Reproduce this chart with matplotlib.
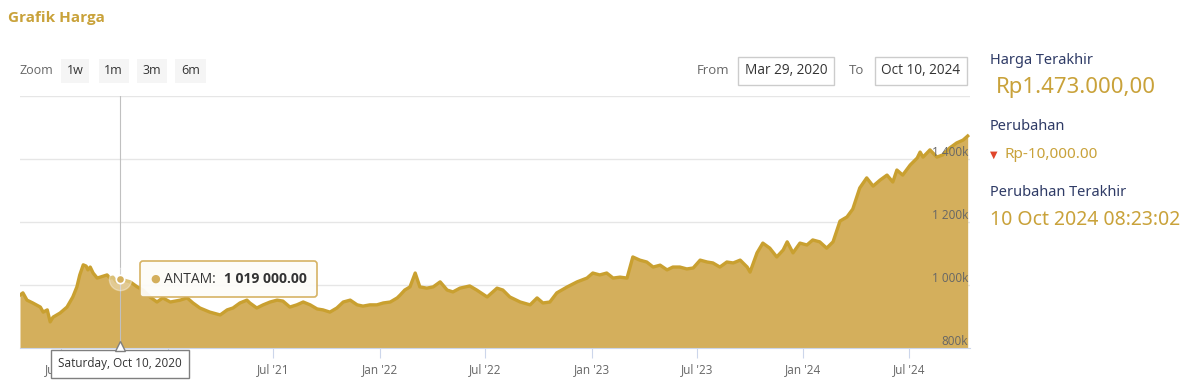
import numpy as np
import pandas as pd
import matplotlib
matplotlib.use("Agg")
import matplotlib.pyplot as plt
import matplotlib.dates as mdates
import matplotlib.transforms as mtransforms
from matplotlib.offsetbox import TextArea, HPacker, AnnotationBbox

plt.rcParams['font.family'] = ['Open Sans', 'DejaVu Sans']

# ANTAM gold price (thousand Rp)
dates = [
    "2020-04-21", "2020-04-26", "2020-05-03", "2020-05-13", "2020-05-26", "2020-05-31",
    "2020-06-07", "2020-06-12", "2020-06-17", "2020-06-29", "2020-07-11", "2020-07-21",
    "2020-07-28", "2020-08-02", "2020-08-08", "2020-08-13", "2020-08-16", "2020-08-20",
    "2020-08-25", "2020-09-01", "2020-09-06", "2020-09-18", "2020-09-23", "2020-09-28",
    "2020-10-04", "2020-10-10", "2020-10-28", "2020-11-09", "2020-11-19", "2020-12-01",
    "2020-12-13", "2020-12-23", "2021-01-05", "2021-01-22", "2021-02-03", "2021-02-13",
    "2021-02-25", "2021-03-14", "2021-04-01", "2021-04-13", "2021-04-23", "2021-05-05",
    "2021-05-17", "2021-05-22", "2021-06-03", "2021-06-14", "2021-06-26", "2021-07-08",
    "2021-07-18", "2021-07-30", "2021-08-11", "2021-08-22", "2021-09-03", "2021-09-15",
    "2021-09-25", "2021-10-07", "2021-10-19", "2021-10-30", "2021-11-11", "2021-11-23",
    "2021-12-03", "2021-12-15", "2021-12-27", "2022-01-07", "2022-01-19", "2022-01-31",
    "2022-02-05", "2022-02-13", "2022-02-22", "2022-03-03", "2022-03-11", "2022-03-23",
    "2022-04-03", "2022-04-15", "2022-04-27", "2022-05-07", "2022-05-19", "2022-06-05",
    "2022-06-17", "2022-07-05", "2022-07-22", "2022-08-01", "2022-08-13", "2022-08-31",
    "2022-09-17", "2022-09-29", "2022-10-09", "2022-10-21", "2022-11-02", "2022-11-20",
    "2022-12-07", "2022-12-24", "2023-01-03", "2023-01-15", "2023-01-27", "2023-02-07",
    "2023-02-19", "2023-03-03", "2023-03-13", "2023-03-25", "2023-04-06", "2023-04-17",
    "2023-04-29", "2023-05-11", "2023-05-21", "2023-06-02", "2023-06-14", "2023-06-25",
    "2023-07-07", "2023-07-19", "2023-07-29", "2023-08-10", "2023-08-22", "2023-09-02",
    "2023-09-14", "2023-09-26", "2023-10-01", "2023-10-13", "2023-10-23", "2023-11-04",
    "2023-11-16", "2023-11-27", "2023-12-04", "2023-12-14", "2023-12-26", "2024-01-07",
    "2024-01-17", "2024-01-29", "2024-02-10", "2024-02-21", "2024-03-04", "2024-03-16",
    "2024-03-26", "2024-04-07", "2024-04-19", "2024-04-30", "2024-05-12", "2024-05-24",
    "2024-06-03", "2024-06-10", "2024-06-20", "2024-07-03", "2024-07-15", "2024-07-20",
    "2024-07-25", "2024-08-06", "2024-08-18", "2024-08-28", "2024-09-09", "2024-09-21",
    "2024-10-02", "2024-10-10",
]
prices = [
    968, 975, 952, 943, 930, 914,
    921, 883, 898, 911, 930, 962,
    994, 1032, 1064, 1060, 1048, 1057,
    1038, 1022, 1025, 1032, 1022, 1025,
    1010, 1019, 1010, 994, 984, 962,
    946, 959, 946, 952, 959, 943,
    927, 914, 905, 921, 927, 943,
    952, 943, 927, 937, 946, 952,
    949, 930, 937, 946, 937, 924,
    921, 914, 927, 946, 952, 937,
    933, 937, 937, 943, 946, 959,
    968, 984, 994, 1038, 994, 990,
    994, 1010, 984, 978, 990, 997,
    984, 962, 990, 984, 962, 946,
    937, 959, 943, 946, 975, 994,
    1010, 1022, 1038, 1032, 1038, 1022,
    1025, 1022, 1089, 1079, 1073, 1057,
    1063, 1048, 1057, 1057, 1051, 1054,
    1079, 1073, 1070, 1057, 1073, 1070,
    1079, 1057, 1041, 1102, 1133, 1117,
    1089, 1111, 1137, 1102, 1133, 1127,
    1143, 1137, 1117, 1137, 1203, 1216,
    1241, 1308, 1340, 1314, 1333, 1349,
    1327, 1365, 1349, 1381, 1403, 1422,
    1406, 1429, 1406, 1413, 1435, 1451,
    1460, 1473,
]
y_ticks = [800, 1000, 1200, 1400]
y_labels = ["800k", "1 000k", "1 200k", "1 400k"]
zoom_buttons = ["1w", "1m", "3m", "6m"]
tip_date = "2020-10-10"
tip_value = 1019

gold_fill = "#d4af5c"
gold_line = "#c9a030"
gold_text = "#c9a23a"
navy = "#2f3b66"

x = pd.to_datetime(dates)
y = np.array(prices)

fig = plt.figure(figsize=(12, 3.86), dpi=100)
ax = fig.add_axes([20 / 1200, 38 / 386, 950 / 1200, 252 / 386])

ax.fill_between(x, 800, y, color=gold_fill, lw=0, zorder=2)
ax.plot(x, y, color=gold_line, lw=2.4, zorder=3)

ax.set_xlim(pd.Timestamp("2020-04-21"), pd.Timestamp("2024-10-14"))
ax.set_ylim(800, 1600)
ax.set_yticks([1000, 1200, 1400, 1600])
ax.yaxis.grid(True, color="#e6e6e6", lw=1)
ax.set_yticklabels([])
ax.tick_params(axis="y", length=0)
for s in ["top", "left", "right"]:
    ax.spines[s].set_visible(False)
ax.spines["bottom"].set_color("#ccd6eb")
ax.set_axisbelow(True)

ax.xaxis.set_major_locator(mdates.MonthLocator(bymonth=[1, 7]))
ax.xaxis.set_major_formatter(mdates.DateFormatter("%b '%y"))
ax.tick_params(axis="x", length=7, color="#ccd6eb", labelsize=8.5,
               labelcolor="#666666", pad=4)

for v, lab in zip(y_ticks, y_labels):
    ax.text(0.998, v, lab, transform=ax.get_yaxis_transform(), ha="right",
            va="bottom", fontsize=8.5, color="#666666", zorder=5)

# crosshair + tooltip
td = pd.Timestamp(tip_date)
ax.axvline(td, color="#c0c0c0", lw=0.8, zorder=4)
ax.plot(td, tip_value, "o", ms=16, color="white", alpha=0.35, zorder=5)
ax.plot(td, tip_value, "o", ms=6, color=gold_fill, mec="white", mew=1.2, zorder=6)

tip = HPacker(children=[
    TextArea("●", textprops=dict(color=gold_fill, fontsize=8)),
    TextArea("ANTAM: ", textprops=dict(color="#333333", fontsize=10)),
    TextArea("1 019 000.00", textprops=dict(color="#333333", fontsize=10,
                                            fontweight="bold")),
], align="center", pad=0, sep=3)
ab = AnnotationBbox(tip, (td, tip_value), xybox=(22, 0), boxcoords="offset points",
                    box_alignment=(0, 0.5), frameon=True, pad=0.75,
                    bboxprops=dict(boxstyle="round,pad=0.75,rounding_size=0.2",
                                   fc="#fdfcf8", ec=gold_fill, lw=1.2, alpha=0.95),
                    zorder=7)
ax.add_artist(ab)

ax.annotate("Saturday, Oct 10, 2020", xy=(td, 800), xytext=(0, -16),
            textcoords="offset pixels", ha="center", va="center",
            fontsize=8.5, color="#333333", zorder=10, annotation_clip=False,
            bbox=dict(boxstyle="square,pad=0.6", fc="white", ec="#7f7f7f", lw=1))
# little pointer on top of the date label
up = mtransforms.offset_copy(ax.transData, fig=fig, x=0, y=2.5, units="dots")
ax.plot(td, 800, marker="^", ms=7, mfc="white", mec="#7f7f7f", mew=1,
        transform=up, clip_on=False, zorder=11)

# header
fig.text(8 / 1200, 1 - 18 / 386, "Grafik Harga", fontsize=11, fontweight="bold",
         color=gold_text, va="center")
fig.text(20 / 1200, 1 - 71 / 386, "Zoom", fontsize=9, color="#666666", va="center")
for i, b in enumerate(zoom_buttons):
    fig.text((75 + i * 38.5) / 1200, 1 - 71 / 386, b, fontsize=9, color="#333333",
             va="center", ha="center",
             bbox=dict(boxstyle="square,pad=0.45", fc="#f5f5f5", ec="none"))

fig.text(697 / 1200, 1 - 71 / 386, "From", fontsize=9.5, color="#666666", va="center")
fig.text(786 / 1200, 1 - 71 / 386, "Mar 29, 2020", fontsize=9.8, color="#333333",
         va="center", ha="center",
         bbox=dict(boxstyle="square,pad=0.5", fc="white", ec="#cccccc", lw=1))
fig.text(849 / 1200, 1 - 71 / 386, "To", fontsize=9.5, color="#666666", va="center")
fig.text(921 / 1200, 1 - 71 / 386, "Oct 10, 2024", fontsize=9.8, color="#333333",
         va="center", ha="center",
         bbox=dict(boxstyle="square,pad=0.5", fc="white", ec="#cccccc", lw=1))

# side panel
rfont = ['Noto Sans', 'DejaVu Sans']
fig.text(990 / 1200, 1 - 60 / 386, "Harga Terakhir", fontsize=10.5, color=navy,
         va="center", family=rfont)
fig.text(996 / 1200, 1 - 88 / 386, "Rp1.473.000,00", fontsize=16, color=gold_text,
         va="center", family=rfont)
fig.text(990 / 1200, 1 - 127 / 386, "Perubahan", fontsize=10.5, color=navy,
         va="center", family=rfont)
fig.text(990 / 1200, 1 - 155 / 386, "▼", fontsize=7, color="#e0452b",
         va="center", family=["DejaVu Sans"])
fig.text(1005 / 1200, 1 - 155 / 386, "Rp-10,000.00", fontsize=11, color=gold_text,
         va="center", family=rfont)
fig.text(990 / 1200, 1 - 192 / 386, "Perubahan Terakhir", fontsize=10.5, color=navy,
         va="center", family=rfont)
fig.text(990 / 1200, 1 - 220 / 386, "10 Oct 2024 08:23:02", fontsize=14,
         color=gold_text, va="center", family=rfont)

fig.savefig("out.png", dpi=100)
